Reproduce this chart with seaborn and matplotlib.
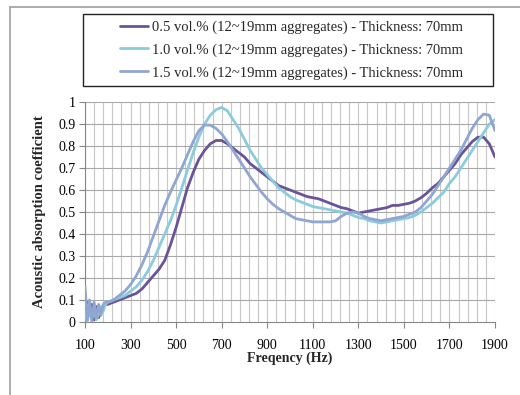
import numpy as np
import pandas as pd
import matplotlib
matplotlib.use("Agg")
import matplotlib.pyplot as plt
from matplotlib.patches import Rectangle
from matplotlib.lines import Line2D
import seaborn as sns

freq = [100, 110, 120, 130, 140, 150, 160, 170, 180, 190, 200,
        225, 250, 275, 300, 325, 350, 375, 400, 425, 450, 475, 500,
        525, 550, 575, 600, 625, 650, 675, 700, 725, 750, 775, 800,
        825, 850, 875, 900, 925, 950, 975, 1000, 1025, 1050, 1075, 1100,
        1125, 1150, 1175, 1200, 1225, 1250, 1275, 1300, 1325, 1350, 1375, 1400,
        1425, 1450, 1475, 1500, 1525, 1550, 1575, 1600, 1625, 1650, 1675, 1700,
        1725, 1750, 1775, 1800, 1825, 1850, 1875, 1900]

alpha_05 = [0.02, 0.09, 0.03, 0.08, 0.01, 0.07, 0.02, 0.06, 0.07, 0.08, 0.08,
            0.09, 0.10, 0.11, 0.12, 0.13, 0.15, 0.18, 0.21, 0.24, 0.28, 0.35, 0.43,
            0.52, 0.61, 0.68, 0.74, 0.78, 0.81, 0.825, 0.825, 0.81, 0.79, 0.77, 0.75,
            0.72, 0.70, 0.68, 0.66, 0.64, 0.62, 0.61, 0.60, 0.59, 0.58, 0.57, 0.565,
            0.56, 0.55, 0.54, 0.53, 0.52, 0.515, 0.505, 0.495, 0.50, 0.505, 0.51, 0.515,
            0.52, 0.53, 0.53, 0.535, 0.54, 0.55, 0.565, 0.585, 0.61, 0.63, 0.66, 0.69,
            0.72, 0.76, 0.79, 0.82, 0.84, 0.84, 0.81, 0.75]

alpha_10 = [0.05, 0.00, 0.06, 0.02, 0.05, 0.01, 0.04, 0.07, 0.05, 0.08, 0.09,
            0.10, 0.11, 0.12, 0.14, 0.16, 0.19, 0.23, 0.28, 0.34, 0.40, 0.46, 0.53,
            0.61, 0.69, 0.77, 0.84, 0.90, 0.94, 0.965, 0.975, 0.96, 0.92, 0.88, 0.83,
            0.78, 0.74, 0.70, 0.67, 0.64, 0.61, 0.59, 0.57, 0.555, 0.545, 0.535, 0.525,
            0.52, 0.515, 0.51, 0.505, 0.50, 0.495, 0.485, 0.475, 0.47, 0.46, 0.455, 0.45,
            0.455, 0.46, 0.465, 0.47, 0.475, 0.485, 0.50, 0.52, 0.54, 0.565, 0.59, 0.63,
            0.66, 0.70, 0.74, 0.78, 0.82, 0.86, 0.90, 0.92]

alpha_15 = [0.16, 0.01, 0.10, 0.00, 0.09, 0.02, 0.08, 0.03, 0.08, 0.09, 0.09,
            0.10, 0.12, 0.14, 0.17, 0.21, 0.26, 0.32, 0.39, 0.46, 0.53, 0.59, 0.645,
            0.70, 0.76, 0.82, 0.87, 0.895, 0.895, 0.88, 0.855, 0.82, 0.78, 0.74, 0.70,
            0.66, 0.625, 0.59, 0.56, 0.535, 0.515, 0.50, 0.485, 0.47, 0.465, 0.46, 0.455,
            0.455, 0.455, 0.455, 0.46, 0.48, 0.495, 0.50, 0.495, 0.48, 0.47, 0.465, 0.46,
            0.465, 0.47, 0.475, 0.48, 0.49, 0.50, 0.52, 0.55, 0.58, 0.62, 0.66, 0.70,
            0.74, 0.78, 0.83, 0.88, 0.92, 0.945, 0.94, 0.87]

labels = ["0.5 vol.% (12~19mm aggregates) - Thickness: 70mm",
          "1.0 vol.% (12~19mm aggregates) - Thickness: 70mm",
          "1.5 vol.% (12~19mm aggregates) - Thickness: 70mm"]
colors = ["#6a5499", "#8ccbdc", "#8fa6d3"]

frames = []
for lab, vals in zip(labels, [alpha_05, alpha_10, alpha_15]):
    frames.append(pd.DataFrame({"freq": freq, "alpha": vals, "series": lab}))
df = pd.concat(frames, ignore_index=True)

sns.set_theme(style="white")
plt.rcParams["font.family"] = ["Liberation Serif", "DejaVu Serif"]

W, H = 520, 395
fig = plt.figure(figsize=(W / 100, H / 100), dpi=100)
ax = fig.add_axes([85 / W, 1 - 322 / H, 410 / W, 220 / H])

ax.set_xlim(100, 1900)
ax.set_ylim(0, 1)
ax.set_xticks(np.arange(100, 1901, 200))
ax.set_xticks(np.arange(100, 1901, 40), minor=True)
ax.set_yticks(np.arange(0, 1.01, 0.1))
ax.set_yticklabels(["0", "0.1", "0.2", "0.3", "0.4", "0.5", "0.6", "0.7", "0.8", "0.9", "1"])

for x in np.arange(100, 1901, 40):
    ax.axvline(x, color="#c8c8c8", lw=0.8, zorder=0)
for y in np.arange(0.1, 1.01, 0.1):
    ax.axhline(y, color="#a8a8a8", lw=0.8, zorder=0)

sns.lineplot(data=df, x="freq", y="alpha", hue="series", palette=colors,
             linewidth=2.0, ax=ax, legend=False, sort=False, zorder=3)

for side in ["top", "right"]:
    ax.spines[side].set_visible(False)
for side in ["left", "bottom"]:
    ax.spines[side].set_color("#868686")
    ax.spines[side].set_linewidth(0.8)

ax.tick_params(axis="both", which="major", direction="out", length=4,
               color="#868686", width=0.8, labelsize=10, colors="black")
ax.tick_params(axis="y", pad=3)
ax.tick_params(axis="x", pad=8)
ax.tick_params(axis="x", which="minor", length=0)
ax.tick_params(left=True, bottom=True)

ax.set_xlabel("Freqency (Hz)", fontsize=10, fontweight="bold", labelpad=0)
ax.set_ylabel("Acoustic absorption coefficient", fontsize=10.5, fontweight="bold", labelpad=9)

# chart frame (only top and left edges visible in the original)
fig.add_artist(Line2D([10 / W, 1], [1 - 7 / H, 1 - 7 / H], color="#a0a0a0", lw=1.2))
fig.add_artist(Line2D([10 / W, 10 / W], [0, 1 - 7 / H], color="#a0a0a0", lw=1.2))

# legend box
fig.add_artist(Rectangle((83 / W, 1 - 86 / H), 410 / W, 72 / H, fill=False,
                         edgecolor="#222222", lw=1.0, transform=fig.transFigure))
handles = [Line2D([], [], color=c, lw=2.0) for c in colors]
fig.legend(handles, labels, loc="center", bbox_to_anchor=(292 / W, 1 - 50 / H),
           frameon=False, fontsize=10.5, handlelength=1.9, handletextpad=0.3,
           labelspacing=0.65, borderpad=0)

fig.savefig("out.png", dpi=100)
